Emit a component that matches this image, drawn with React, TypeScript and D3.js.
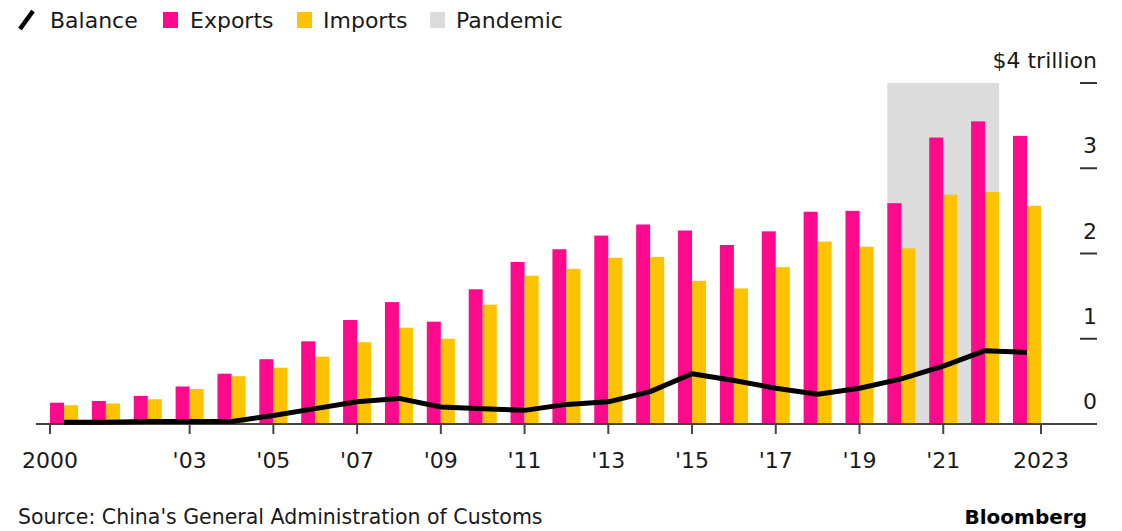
import React from "react";
import * as d3 from "d3";

const years: number[] = d3.range(2000, 2024);
const exportsVals: number[] = [0.25, 0.27, 0.33, 0.44, 0.59, 0.76, 0.97, 1.22, 1.43, 1.2, 1.58, 1.9, 2.05, 2.21, 2.34, 2.27, 2.1, 2.26, 2.49, 2.5, 2.59, 3.36, 3.55, 3.38];
const importsVals: number[] = [0.22, 0.24, 0.29, 0.41, 0.56, 0.66, 0.79, 0.96, 1.13, 1.0, 1.4, 1.74, 1.82, 1.95, 1.96, 1.68, 1.59, 1.84, 2.14, 2.08, 2.06, 2.69, 2.72, 2.56];
const balanceVals: number[] = [0.02, 0.02, 0.03, 0.03, 0.03, 0.1, 0.18, 0.26, 0.3, 0.2, 0.18, 0.16, 0.23, 0.26, 0.38, 0.59, 0.51, 0.42, 0.35, 0.42, 0.53, 0.68, 0.86, 0.84];
const tickYears: number[] = [2000, 2003, 2005, 2007, 2009, 2011, 2013, 2015, 2017, 2019, 2021, 2023];
const tickLabels: string[] = ["2000", "'03", "'05", "'07", "'09", "'11", "'13", "'15", "'17", "'19", "'21", "2023"];
const yTicks: number[] = [0, 1, 2, 3, 4];
const yTickLabels: string[] = ["0", "1", "2", "3", "$4 trillion"];
const pandemicYears: number[] = [2020, 2022];

const PINK = "#ff0a8c";
const YELLOW = "#fdc300";
const GRAY = "#dcdcdc";
const TEXT = "#1a1a1a";
const FONT = "DejaVu Sans";

export default function App() {
  const x = d3.scaleBand<number>().domain(years).range([50, 1041]).paddingInner(0.33).paddingOuter(0);
  const bw = x.bandwidth();
  const xs = d3.scaleBand<string>().domain(["exports", "imports"]).range([0, bw]).padding(0);
  const y = d3.scaleLinear().domain([0, 4]).range([424, 83]);

  const line = d3
    .line<number>()
    .x((_, i) => (x(years[i]) as number) + bw / 2)
    .y((d) => y(d));

  const tickX = (yr: number) => {
    if (yr === years[0]) return x(yr) as number;
    if (yr === years[years.length - 1]) return (x(yr) as number) + bw;
    return (x(yr) as number) + bw / 2;
  };

  const pandX0 = x(pandemicYears[0]) as number;
  const pandX1 = (x(pandemicYears[1]) as number) + bw;

  return (
    <svg
      width={1122}
      height={531}
      style={{ position: "absolute", left: 0, top: 0, background: "#fff" }}
      fontFamily={FONT}
    >
      <rect x={0} y={0} width={1122} height={531} fill="#fff" />
      {/* Legend */}
      <g fill={TEXT} fontSize={22}>
        <line x1={20} y1={29} x2={33} y2={11} stroke="#000" strokeWidth={4.5} />
        <text x={50} y={28}>Balance</text>
        <rect x={163} y={12} width={15} height={16} fill={PINK} />
        <text x={190} y={28}>Exports</text>
        <rect x={297} y={12} width={15} height={16} fill={YELLOW} />
        <text x={323} y={28}>Imports</text>
        <rect x={430} y={12} width={15} height={16} fill={GRAY} />
        <text x={456} y={28}>Pandemic</text>
      </g>

      {/* Pandemic shading */}
      <rect x={pandX0} y={y(4)} width={pandX1 - pandX0} height={y(0) - y(4)} fill={GRAY} />

      {/* Bars */}
      {years.map((yr, i) => (
        <g key={yr} transform={`translate(${x(yr)},0)`}>
          <rect x={xs("exports")} y={y(exportsVals[i])} width={xs.bandwidth()} height={y(0) - y(exportsVals[i])} fill={PINK} />
          <rect x={xs("imports")} y={y(importsVals[i])} width={xs.bandwidth()} height={y(0) - y(importsVals[i])} fill={YELLOW} />
        </g>
      ))}

      {/* Y axis ticks and labels */}
      {yTicks.map((v, i) => (
        <g key={v}>
          {v > 0 && <line x1={1080} x2={1097} y1={y(v)} y2={y(v)} stroke="#333" strokeWidth={2} />}
          <text x={1097} y={y(v) - 15} textAnchor="end" fontSize={22} fill={TEXT}>
            {yTickLabels[i]}
          </text>
        </g>
      ))}

      {/* X axis */}
      <line x1={36} x2={1097} y1={y(0)} y2={y(0)} stroke="#444" strokeWidth={2} />
      {tickYears.map((yr, i) => (
        <g key={yr}>
          <line x1={tickX(yr)} x2={tickX(yr)} y1={y(0)} y2={y(0) + 10} stroke="#444" strokeWidth={2} />
          <text x={tickX(yr)} y={468} textAnchor="middle" fontSize={22} fill={TEXT}>
            {tickLabels[i]}
          </text>
        </g>
      ))}

      {/* Balance line */}
      <path d={line(balanceVals) || ""} fill="none" stroke="#000" strokeWidth={5} strokeLinejoin="round" strokeLinecap="butt" />

      {/* Footer */}
      <text x={18} y={524} fontSize={20.5} fill={TEXT}>
        Source: China's General Administration of Customs
      </text>
      <text x={1087} y={524} textAnchor="end" fontSize={20} fontWeight="bold" fill="#000">
        Bloomberg
      </text>
    </svg>
  );
}
